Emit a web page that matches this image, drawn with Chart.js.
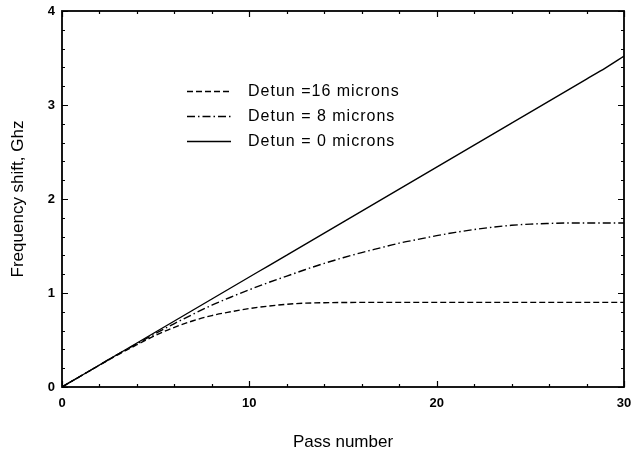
<!DOCTYPE html>
<html>
<head>
<meta charset="utf-8">
<script src="https://cdn.jsdelivr.net/npm/chart.js@4"></script>
<style>
  html, body { margin: 0; padding: 0; background: #fff; }
  #wrap { width: 633px; height: 457px; position: relative; }
</style>
</head>
<body>
<div id="wrap"><canvas id="c" width="633" height="457"></canvas></div>
<script>
// ---- Data ----
const passes = [0,1,2,3,4,5,6,7,8,9,10,11,12,13,14,15,16,17,18,19,20,21,22,23,24,25,26,27,28,29,30];
const detun16 = [0,0.117,0.233,0.345,0.45,0.55,0.635,0.705,0.76,0.80,0.835,0.86,0.88,0.892,0.897,0.899,0.90,0.90,0.90,0.90,0.90,0.90,0.90,0.90,0.90,0.90,0.90,0.90,0.90,0.90,0.90];
const detun8  = [0,0.117,0.234,0.35,0.46,0.57,0.675,0.775,0.87,0.955,1.035,1.11,1.18,1.25,1.315,1.375,1.43,1.48,1.53,1.57,1.61,1.645,1.675,1.70,1.72,1.733,1.74,1.745,1.745,1.745,1.745];
const detun0  = [0,0.117,0.234,0.351,0.468,0.585,0.702,0.819,0.936,1.053,1.17,1.287,1.404,1.521,1.638,1.755,1.872,1.989,2.106,2.223,2.34,2.457,2.574,2.691,2.808,2.925,3.042,3.159,3.276,3.393,3.52];
const seriesLabels = ["Detun =16 microns", "Detun = 8 microns", "Detun = 0 microns"];
const xTickLabels = [0, 10, 20, 30];
const yTickLabels = [0, 1, 2, 3, 4];
const xTitle = "Pass number";
const yTitle = "Frequency shift, Ghz";

const FONT = "'Liberation Sans', Arial, Helvetica, sans-serif";
const dashes = [[6, 3], [8, 3, 1.5, 3], []];

function pts(ys) { return passes.map((p, i) => ({ x: p, y: ys[i] })); }

const datasets = [detun16, detun8, detun0].map((ys, i) => ({
  label: seriesLabels[i],
  data: pts(ys),
  borderColor: '#000',
  borderWidth: 1.4,
  borderDash: dashes[i],
  pointRadius: 0,
  fill: false,
  cubicInterpolationMode: 'monotone'
}));

// Frame, inward ticks and in-plot legend
const framePlugin = {
  id: 'frame',
  afterDatasetsDraw(chart) {
    const { ctx, chartArea: a, scales: { x, y } } = chart;
    ctx.save();
    ctx.strokeStyle = '#000';
    ctx.setLineDash([]);
    ctx.lineWidth = 1.8;
    ctx.strokeRect(a.left, a.top, a.right - a.left, a.bottom - a.top);
    ctx.lineWidth = 1.2;
    ctx.beginPath();
    for (let v = 0; v <= 30 + 1e-9; v += 2) {
      const px = Math.round(x.getPixelForValue(v)) + 0.5;
      const len = (Math.abs(v % 10) < 1e-9) ? 6 : 3;
      ctx.moveTo(px, a.bottom); ctx.lineTo(px, a.bottom - len);
      ctx.moveTo(px, a.top); ctx.lineTo(px, a.top + len);
    }
    for (let k = 0; k <= 20; k++) {
      const v = k * 0.2;
      const py = Math.round(y.getPixelForValue(v)) + 0.5;
      const len = (k % 5 === 0) ? 6 : 3;
      ctx.moveTo(a.left, py); ctx.lineTo(a.left + len, py);
      ctx.moveTo(a.right, py); ctx.lineTo(a.right - len, py);
    }
    ctx.stroke();
    const rows = [91, 116, 141];
    ctx.font = '16px ' + FONT;
    if ('letterSpacing' in ctx) ctx.letterSpacing = '1px';
    ctx.fillStyle = '#000';
    ctx.textBaseline = 'middle';
    ctx.textAlign = 'left';
    chart.data.datasets.forEach((ds, i) => {
      ctx.lineWidth = 1.4;
      ctx.setLineDash(ds.borderDash);
      ctx.beginPath();
      ctx.moveTo(187, rows[i] + 0.5);
      ctx.lineTo(231, rows[i] + 0.5);
      ctx.stroke();
      ctx.setLineDash([]);
      ctx.fillText(ds.label, 248, rows[i] + 1);
    });
    ctx.restore();
  }
};

new Chart(document.getElementById('c'), {
  type: 'line',
  data: { datasets },
  options: {
    responsive: false,
    animation: false,
    devicePixelRatio: 1,
    layout: { padding: { top: 11, right: 9, left: 0, bottom: 0 } },
    plugins: { legend: { display: false }, tooltip: { enabled: false } },
    scales: {
      x: {
        type: 'linear', min: 0, max: 30,
        afterBuildTicks: s => { s.ticks = xTickLabels.map(v => ({ value: v })); },
        grid: { display: false, drawTicks: false },
        border: { display: false },
        ticks: { color: '#000', padding: 9, font: { family: FONT, size: 13, weight: 'bold' }, maxRotation: 0 },
        title: { display: true, text: xTitle, color: '#000', font: { family: FONT, size: 17 }, padding: { top: 0, bottom: 4 } },
        afterFit: s => { s.height = 70; s.paddingLeft = 0; s.paddingRight = 0; }
      },
      y: {
        type: 'linear', min: 0, max: 4,
        afterBuildTicks: s => { s.ticks = yTickLabels.map(v => ({ value: v })); },
        grid: { display: false, drawTicks: false },
        border: { display: false },
        ticks: { color: '#000', padding: 7, font: { family: FONT, size: 13, weight: 'bold' } },
        title: { display: true, text: yTitle, color: '#000', font: { family: FONT, size: 17 }, padding: { top: 8, bottom: 0 } },
        afterFit: s => { s.width = 62; s.paddingTop = 0; s.paddingBottom = 0; }
      }
    }
  },
  plugins: [framePlugin]
});
</script>
</body>
</html>
